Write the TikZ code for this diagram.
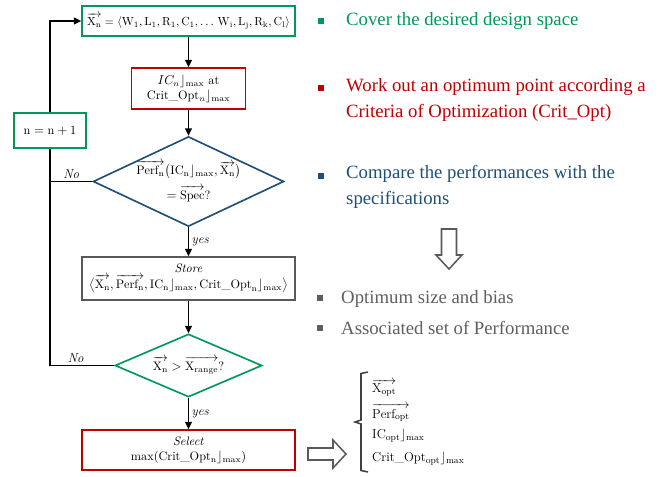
\documentclass[tikz,border=0pt]{standalone}
\usepackage{amsmath,amssymb}
\usepackage{fontspec}
\newfontfamily\notefont{Liberation Serif}
\usepackage{tikz}
\usetikzlibrary{positioning,arrows.meta,calc,shapes.geometric}
\definecolor{FlowGreen}{HTML}{00985A}
\definecolor{FlowRed}{HTML}{C00000}
\definecolor{FlowBlue}{HTML}{1F4E79}
\definecolor{FlowGray}{HTML}{595959}
\definecolor{NoteGray}{HTML}{5F5F5F}
\definecolor{BraceGray}{HTML}{404040}
\tikzset{
  flowbox/.style={rectangle, draw, line width=1.4pt, fill=white, align=center, inner sep=2pt, font=\fontsize{10.5}{13}\selectfont, text=black},
  greenbox/.style={flowbox, draw=FlowGreen},
  redbox/.style={flowbox, draw=FlowRed},
  graybox/.style={flowbox, draw=FlowGray},
  decision/.style={diamond, draw, line width=1.4pt, fill=white, align=center, inner sep=0pt, font=\fontsize{10.5}{13}\selectfont, text=black},
  flowarr/.style={-{Triangle[length=2.2mm,width=2mm]}, line width=1.4pt, draw=black},
  flowline/.style={line width=1.4pt, draw=black},
  flowtag/.style={font=\fontsize{11}{13}\selectfont\itshape, inner sep=2pt},
  bulletsq/.style={rectangle, minimum size=0.16cm, inner sep=0pt},
  notetext/.style={anchor=west, align=left, inner sep=0pt, font=\notefont\fontsize{16}{22}\selectfont},
  optitem/.style={anchor=west, inner sep=0pt, font=\fontsize{11}{13}\selectfont},
  hollowarr/.style={draw=FlowGray, line width=1.3pt, fill=white, line join=miter}
}

\begin{document}
\begin{tikzpicture}[x=0.03cm, y=-0.03cm]
\useasboundingbox (0,0) rectangle (667,477);
% flow chart
\node[greenbox, minimum width=6.39cm, minimum height=0.9cm, font=\fontsize{10}{12}\selectfont] (space) at (188.5,21) {$\overrightarrow{\mathrm{X_n}} = \langle \mathrm{W_1, L_1, R_1, C_1, \ldots\, W_i, L_j, R_k, C_l}\rangle$};
\node[redbox, minimum width=3.42cm, minimum height=1.23cm] (optpt) at (188.5,88.5) {$IC_n\rfloor_{\mathrm{max}}$ at\\Crit\_Opt$_n\rfloor_{\mathrm{max}}$};
\node[decision, draw=FlowBlue, aspect=2.12, minimum width=5.28cm, minimum height=2.49cm] (cmp) at (188.5,181.5) {$\overrightarrow{\mathrm{Perf_n}}\big(\mathrm{IC_n}\rfloor_{\mathrm{max}}, \overrightarrow{\mathrm{X_n}}\big)$\\[5pt]$= \overrightarrow{\mathrm{Spec}}$?};
\node[graybox, minimum width=6.39cm, minimum height=1.29cm] (store) at (188.5,278.5) {\textit{Store}\\$\big\langle \overrightarrow{\mathrm{X_n}}, \overrightarrow{\mathrm{Perf_n}}, \mathrm{IC_n}\rfloor_{\mathrm{max}}, \text{Crit\_Opt}_{\mathrm{n}}\rfloor_{\mathrm{max}}\big\rangle$};
\node[decision, draw=FlowGreen, aspect=2.33, minimum width=4.41cm, minimum height=1.89cm] (range) at (188.5,365.5) {$\overrightarrow{\mathrm{X_n}} > \overrightarrow{\mathrm{X_{range}}}$?};
\node[redbox, minimum width=6.39cm, minimum height=1.2cm] (select) at (188.5,450) {\textit{Select}\\max(Crit\_Opt$_{\mathrm{n}}\rfloor_{\mathrm{max}}$)};
\node[greenbox, minimum width=2.16cm, minimum height=1.05cm] (incr) at (50,130.5) {$\mathrm{n = n + 1}$};

\draw[flowarr] (space) -- (optpt);
\draw[flowarr] (optpt) -- (cmp);
\draw[flowarr] (cmp) -- node[flowtag, right] {yes} (store);
\draw[flowarr] (store) -- (range);
\draw[flowarr] (range) -- node[flowtag, right] {yes} (select);
\draw[flowline] (cmp.west) -- node[flowtag, above] {No} (cmp.west -| incr.south);
\draw[flowline] (range.west) -- node[flowtag, above, pos=0.6] {No} (range.west -| incr.south) -- (incr.south);
\draw[flowarr] (incr.north) |- (space.west);

% notes
\node[bulletsq, fill=FlowGreen] (b1) at (321,21) {};
\node[notetext, text=FlowGreen] (n1) at (346,21) {Cover the desired design space};
\node[bulletsq, fill=FlowRed] (b2) at (321,88) {};
\node[notetext, text=FlowRed, anchor=north west] (n2) at (346,78) {Work out an optimum point according a\\Criteria of Optimization (Crit\_Opt)};
\node[bulletsq, fill=FlowBlue] (b3) at (321,176) {};
\node[notetext, text=FlowBlue, anchor=north west] (n3) at (346,165) {Compare the performances with the\\specifications};
\draw[hollowarr] (441.5,229) -- (456.5,229) -- (456.5,255) -- (462,255) -- (449,269) -- (436,255) -- (441.5,255) -- cycle;
\node[bulletsq, fill=NoteGray] (b4) at (320,298) {};
\node[notetext, text=NoteGray] (n4) at (341,299) {Optimum size and bias};
\node[bulletsq, fill=NoteGray] (b5) at (320,328) {};
\node[notetext, text=NoteGray] (n5) at (341,328) {Associated set of Performance};

% optimum set
\draw[hollowarr] (308,448) -- (333,448) -- (333,440) -- (346,454) -- (333,468) -- (333,460) -- (308,460) -- cycle;
\draw[BraceGray, line width=1.3pt] (368,372) -- (361,373.5) -- (361,420) -- (355,422) -- (361,424) -- (361,470.5) -- (368,472);
\node[optitem] (xopt) at (372,388) {$\overrightarrow{\mathrm{X_{opt}}}$};
\node[optitem] (perfopt) at (372,413) {$\overrightarrow{\mathrm{Perf_{opt}}}$};
\node[optitem] (icopt) at (372,436) {$\mathrm{IC_{opt}}\rfloor_{\mathrm{max}}$};
\node[optitem] (critopt) at (372,459) {Crit\_Opt$_{\mathrm{opt}}\rfloor_{\mathrm{max}}$};
\end{tikzpicture}
\end{document}
